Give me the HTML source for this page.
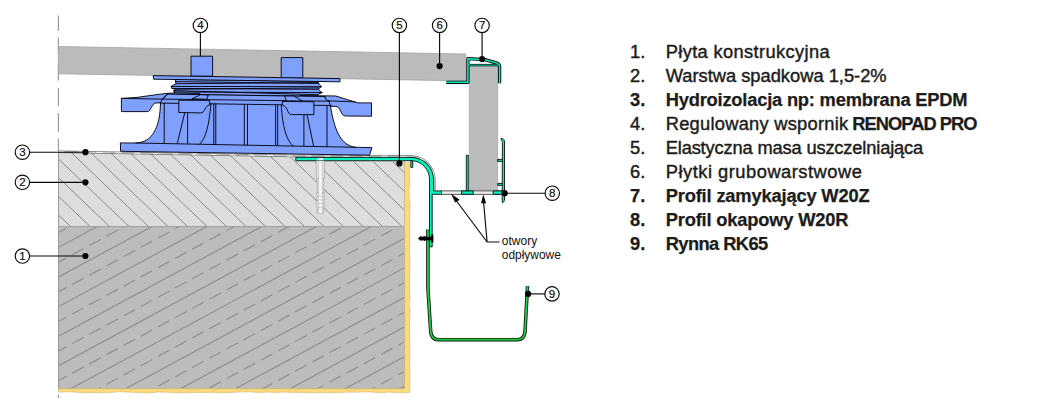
<!DOCTYPE html>
<html lang="pl">
<head>
<meta charset="utf-8">
<title>Okap tarasu - przekrój</title>
<style>
html,body{margin:0;padding:0;background:#fff;}
body{width:1054px;height:401px;overflow:hidden;position:relative;font-family:"Liberation Sans",sans-serif;}
svg{position:absolute;left:0;top:0;display:block;}
.lg text{font-family:"Liberation Sans",sans-serif;font-size:18.3px;fill:#1c1c1c;stroke:#1c1c1c;stroke-width:0.42px;}
.lg .b{font-weight:bold;stroke-width:0.25px;}
.num{font-family:"Liberation Sans",sans-serif;font-size:11.5px;fill:#111;stroke:#111;stroke-width:0.2px;text-anchor:middle;}
.lbl{font-family:"Liberation Sans",sans-serif;font-size:12.5px;fill:#111;}
.bl{fill:#7fa0ff;stroke:#05050f;stroke-width:0.95;stroke-linejoin:round;}
.ln{fill:none;stroke:#05050f;stroke-width:0.95;stroke-linecap:round;}
.tl{fill:#06f0c0;stroke:#04140f;stroke-width:0.9;stroke-linejoin:round;}
.gr{fill:#22d044;stroke:#0a2a10;stroke-width:0.8;stroke-linejoin:round;}
.co{fill:none;stroke:#0a0a0a;stroke-width:1.15;}
.dot{fill:#000;}
.cir{fill:#fff;stroke:#0a0a0a;stroke-width:1.15;}
</style>
</head>
<body>
<svg width="1054" height="401" viewBox="0 0 1054 401">
<defs>
<clipPath id="c1"><rect x="58.5" y="226.5" width="346.2" height="162.2"/></clipPath>
<clipPath id="c2"><path d="M58.5,151.5 L296,155.6 L296,160.7 L404.7,160.7 L404.7,226.5 L58.5,226.5 Z"/></clipPath>
</defs>

<path d="M58.4,15.5 V31 M58.4,37.5 V54.3 M58.4,63.1 V80.5 M58.4,88 V106 M58.4,113 V132 M58.4,138.5 V151 M58.4,394.8 V398" stroke="#9c9c9c" stroke-width="1.2" fill="none"/>
<g id="layers">
<path d="M58.5,151.5 L296,155.6 L296,160.7 L404.7,160.7 L404.7,226.5 L58.5,226.5 Z" fill="#dddddd"/>
<path clip-path="url(#c2)" d="M-50.5,148 L35.2,230 M-31.0,148 L54.7,230 M-11.5,148 L74.2,230 M8.0,148 L93.7,230 M27.5,148 L113.2,230 M47.0,148 L132.7,230 M66.5,148 L152.2,230 M86.0,148 L171.7,230 M105.5,148 L191.2,230 M125.0,148 L210.7,230 M144.5,148 L230.2,230 M164.0,148 L249.7,230 M183.5,148 L269.2,230 M203.0,148 L288.7,230 M222.5,148 L308.2,230 M242.0,148 L327.7,230 M261.5,148 L347.2,230 M281.0,148 L366.7,230 M300.5,148 L386.2,230 M320.0,148 L405.7,230 M339.5,148 L425.2,230 M359.0,148 L444.7,230 M378.5,148 L464.2,230 M398.0,148 L483.7,230 M417.5,148 L503.2,230" stroke="#8a8a8a" stroke-width="1" fill="none"/>
<rect x="58.5" y="226.5" width="346.2" height="162.2" fill="#bcbcbc"/>
<g clip-path="url(#c1)"><path d="M58.5,188.2 L410,-1.6 M58.5,217.8 L410,28.0 M58.5,247.4 L410,57.6 M58.5,277.0 L410,87.2 M58.5,306.6 L410,116.8 M58.5,336.2 L410,146.4 M58.5,365.8 L410,176.0 M58.5,395.4 L410,205.6 M58.5,425.0 L410,235.2 M58.5,454.6 L410,264.8 M58.5,484.2 L410,294.4 M58.5,513.8 L410,324.0 M58.5,543.4 L410,353.6 M58.5,573.0 L410,383.2 M58.5,602.6 L410,412.8 M58.5,632.2 L410,442.4 M58.5,661.8 L410,472.0 M58.5,691.4 L410,501.6" stroke="#8a8a8a" stroke-width="1.05" fill="none"/>
<path d="M58.5,203.0 L410,13.2 M58.5,232.6 L410,42.8 M58.5,262.2 L410,72.4 M58.5,291.8 L410,102.0 M58.5,321.4 L410,131.6 M58.5,351.0 L410,161.2 M58.5,380.6 L410,190.8 M58.5,410.2 L410,220.4 M58.5,439.8 L410,250.0 M58.5,469.4 L410,279.6 M58.5,499.0 L410,309.2 M58.5,528.6 L410,338.8 M58.5,558.2 L410,368.4 M58.5,587.8 L410,398.0 M58.5,617.4 L410,427.6 M58.5,647.0 L410,457.2 M58.5,676.6 L410,486.8 M58.5,706.2 L410,516.4" stroke="#8a8a8a" stroke-width="1.05" fill="none" stroke-dasharray="13 6.5" stroke-dashoffset="4"/></g>
<path d="M58.5,226.5 H404.7" stroke="#a0a0a0" stroke-width="1" fill="none"/>
<path d="M58.5,151 V389" stroke="#9a9a9a" stroke-width="1" fill="none"/>
<path d="M404.7,161 V388.7 H58.5" stroke="#a0a0a0" stroke-width="0.8" fill="none"/>
<path d="M404.7,162.8 L409.4,162.8 L409.3,170.0 L409.4,177.2 L409.7,184.6 L409.0,189.9 L409.3,198.2 L410.1,204.1 L409.9,211.0 L409.7,217.9 L409.7,223.5 L409.6,232.0 L409.7,240.0 L409.8,245.2 L409.3,252.6 L410.0,257.7 L409.8,264.6 L409.8,273.1 L409.4,281.8 L409.5,290.0 L410.0,298.7 L409.1,304.1 L410.1,310.0 L409.7,316.8 L409.6,323.0 L409.4,329.5 L409.6,336.8 L409.8,345.5 L409.9,354.2 L409.7,363.1 L409.9,368.8 L410.0,377.6 L409.8,384.9 L410,392.3 L400.0,392.8 L389.0,392.1 L381.5,392.8 L367.6,391.8 L355.0,392.2 L347.0,392.1 L334.6,392.8 L327.3,392.5 L319.9,392.6 L310.6,392.8 L296.8,392.4 L282.8,392.1 L275.2,392.5 L268.0,392.0 L258.2,392.5 L250.1,391.8 L237.0,392.1 L223.3,392.9 L213.6,392.3 L203.0,392.5 L191.8,392.4 L180.5,392.9 L169.9,392.3 L157.9,392.0 L148.8,393.0 L138.1,392.4 L131.1,392.2 L120.0,391.7 L108.7,392.5 L101.3,392.5 L91.0,392.6 L81.5,392.6 L69.4,391.7 L58.5,392.2 L58.5,388.7 L404.7,388.7 Z" fill="#fcda80" stroke="#d2b56c" stroke-width="0.6"/>
</g>
<path d="M58.4,46.5 L465.8,54 L465.8,80.9 L58.4,73.8 Z" fill="#bbbbbb" stroke="#a3a3a3" stroke-width="0.8"/>
<rect x="469.2" y="65.5" width="28.6" height="124.7" fill="#bbbbbb" stroke="#a3a3a3" stroke-width="0.6"/>
<path d="M58.5,151.7 L296,155.9 L411,156.5 A23.3,23.3 0 0 1 434.3,179.8 L434.3,190.5" fill="none" stroke="#6f6f6f" stroke-width="2.5"/>
<path d="M58.5,151.7 L296,155.9 L411,156.5 A23.3,23.3 0 0 1 434.3,179.8 L434.3,190.5" fill="none" stroke="#cfcfcf" stroke-width="1.1"/>
<path d="M58.5,151.7 L296,155.9 L411,156.5 A23.3,23.3 0 0 1 434.3,179.8 L434.3,190.5" fill="none" stroke="#f4f4f4" stroke-width="1.1" stroke-dasharray="6 13"/>
<g id="pedestal">
<rect class="bl" x="191" y="56.2" width="21.6" height="20"/>
<rect class="bl" x="281.2" y="57.6" width="21.6" height="20.5"/>
<path class="bl" d="M175.4,79.4 L176,83.7 L171.2,86.4 L172,88.4 L175.4,89.2 L174,92 L176,94.4 L317.3,96.4 L317.4,94.7 L322.1,92.6 L318,89.3 L321.4,86.7 L318,83 L319.5,81.4 Z"/>
<path class="ln" d="M176,83.7 L318,82.6 M175.4,81.6 L318,83.4 M171.2,86.4 L321.4,86.7 M172,88.4 L318,89.3 M175.4,89.2 L319,87.9 M174,92 L322.1,92.6 M173.5,90.6 L317.4,94.7"/>
<path class="bl" d="M153.2,75.6 L340,78.6 L340,81.8 L153.6,79.2 Z"/>
<path class="bl" d="M121.4,98.4 L137,97.4 L156.2,94.7 L168,93.3 L176,93 L200,93.5 L200,102.9 L156.2,102.9 C151,103.2 151.5,111.6 147.2,111.6 L121.4,111.6 Z"/>
<path class="bl" d="M371.5,102.9 L357.8,102.9 L335.8,96 L300,95.5 L300,105.9 L335.8,106.4 C341,106.6 340.5,116 345.4,116 L371.5,116.2 Z"/>
<path class="bl" d="M160.5,103.1 C160,128 152,142.5 136,143 L120.4,142.9 L120.6,151.3 L369.6,155.2 L371.9,147.6 L356,147.3 C340,146 334,128 330.4,105.6 L329,100.9 C327,100.9 325.5,99.5 324.9,96.5 L176,94.3 L167.8,94 L162.3,99.1 Z"/>
<path class="ln" d="M121.4,98.4 L162.3,99.1 L167.8,94 M324.9,96.7 C325.5,99.5 327,100.9 329,100.9 L355,101.8"/>
<path class="ln" d="M136,143 L356,147.3"/>
<path class="ln" d="M160.5,103.1 L331,105.5 M162.3,99.1 L329,101.2"/>
<path class="ln" d="M164.2,103.2 V143.4 M187.6,112.4 V143.8 M213.8,104 V144.3 M215.8,104 V144.3 M244.3,104.4 V144.9 M247.5,104.4 V144.9 M275.6,105 V145.5 M277.7,105 V145.5 M303.9,114.3 V146 M327,105.6 V146.4"/>
<path class="ln" d="M184.8,112.4 L177.3,143.6 M307,114.3 L313.6,146.1"/>
<path class="ln" d="M211,104 C209,125 206,138 199.8,144 M281.2,105.2 C282.5,126 286,140 293,145.8"/>
<path class="bl" d="M191.8,98.9 L200.7,94.7 L208.3,95.1 L206.9,99.2 Z"/>
<path class="bl" d="M284.4,96 L294,96 L302.2,100.9 L286.5,100.9 Z"/>
<path class="bl" d="M178.8,100.2 L209.7,100.4 L209.7,105 C204.5,105.5 205.5,112.9 200.4,112.9 L178.8,112.5 Z"/>
<path class="bl" d="M313.9,101.8 L282.3,101.4 L282.3,105.4 C288,105.8 287,114.6 291.6,114.6 L313.9,114.6 Z"/>
</g>
<g id="w20r">
<path class="tl" d="M295.8,157.4 L411,157.4 A22.6,22.6 0 0 1 433.6,180 L433.6,190.9 L441.5,190.9 L441.5,194.3 L432.2,194.3 L432.2,246.8 L429.5,246.8 L429.5,180 A18.5,18.5 0 0 0 411,160.7 L295.8,160.7 Z"/>
<path d="M296.5,161.4 H404.5" stroke="#a9a9a9" stroke-width="1" fill="none"/>
<path class="tl" d="M410.8,160.7 H412.8 V167.4 H410.8 Z"/>
<rect x="441.5" y="190.9" width="62" height="3.4" fill="#ececec" stroke="#333" stroke-width="0.8"/>
<rect class="tl" x="461.6" y="190.9" width="11.6" height="3.4"/>
<rect class="tl" x="493.2" y="190.9" width="10" height="3.4"/>
<rect class="tl" x="466.3" y="155.2" width="2" height="35.8"/>
<path class="tl" d="M501.2,138.2 C503.6,138.4 504.5,140 504.5,142 L504.5,199 C504.5,201 503.6,202.4 502.4,202.8 L502.2,200.5 L502.4,142.5 C502.4,141 501.8,140.4 501.2,140.2 Z"/>
<rect class="tl" x="497.6" y="159.4" width="5" height="2"/>
<rect class="tl" x="497.8" y="183.4" width="4.8" height="2"/>
</g>
<g id="w20z" fill="none" stroke-linejoin="round">
<path d="M491,63.6 L498.6,64.4 L498.6,66 L490,65.6 Z" fill="#06f0c0" stroke="none"/>
<path d="M446.3,82.3 L467.9,82.3 L467.9,58.7 L485,59.7 L496.3,62.9 Q499.6,63.8 499.6,67.2 L499.6,83.3" stroke="#020a08" stroke-width="3.3"/>
<path d="M467.9,65.1 L498.6,65.1" stroke="#020a08" stroke-width="2.4"/>
<path d="M446.3,82.3 L467.9,82.3 L467.9,58.7 L485,59.7 L496.3,62.9 Q499.6,63.8 499.6,67.2 L499.6,83.3" stroke="#06f0c0" stroke-width="1.5"/>
<path d="M467.9,65.1 L498.6,65.1" stroke="#06f0c0" stroke-width="0.9"/>
</g>
<g id="gutter">
<path d="M427.9,229.6 L427.9,288 L430.7,332 Q431.5,339.7 438.6,339.7 L517.2,339.7 Q524.3,339.7 525,332 L527.5,286" fill="none" stroke="#06180a" stroke-width="3.5" stroke-linejoin="round"/>
<path d="M427.9,229.6 L427.9,288 L430.7,332 Q431.5,339.7 438.6,339.7 L517.2,339.7 Q524.3,339.7 525,332 L527.5,286" fill="none" stroke="#22d044" stroke-width="1.8" stroke-linejoin="round"/>
</g>
<path d="M417.9,238.5 L420.5,236.2 L423,236.7 L424.5,235.9 L426,236.7 L430.9,236.7 L430.9,234.5 L433.4,234.5 L433.4,242.5 L430.9,242.5 L430.9,240.3 L426,240.3 L424.5,241.1 L423,240.3 L420.5,240.8 Z" fill="#000"/>
<g id="anchor" fill="#e6e6e6" stroke="#a2a2a2" stroke-width="0.7">
<path d="M316.4,160.9 H324.3 V178.5 H316.4 Z"/>
<path d="M317.2,178.5 H323.7 V193 H317.2 Z"/>
<path d="M316.6,193 H324.3 L324.6,195.6 L323.6,196.6 L324.6,199.2 L323.6,200.2 L324.6,202.9 L323.6,203.9 L324.6,206.6 L323.6,207.6 L323.8,213.2 H317.2 L317.2,207.6 L316.2,206.6 L317.2,203.9 L316.2,202.9 L317.2,200.2 L316.2,199.2 L317.2,196.6 L316.2,195.6 Z"/>
<rect x="318.8" y="161" width="3.2" height="52" fill="#fafafa" stroke="none"/>
<path d="M318.7,161 V213 M322.1,161 V213 M316.4,196.2 H324.4 M316.4,199.8 H324.4 M316.4,203.5 H324.4 M316.4,207.2 H324.4" fill="none" stroke="#b5b5b5" stroke-width="0.6"/>
<ellipse cx="320.4" cy="158.9" rx="3.2" ry="1" fill="#fff" stroke="none"/>
</g>
<g id="callouts">
<path class="co" d="M29.4,256.0 L85.4,256.0"/>
<circle class="dot" cx="85.4" cy="256.0" r="3.1"/>
<circle class="cir" cx="22.4" cy="256.0" r="7.2"/>
<text class="num" x="22.4" y="260.0">1</text>
<path class="co" d="M29.4,182.3 L85.4,182.3"/>
<circle class="dot" cx="85.4" cy="182.3" r="3.1"/>
<circle class="cir" cx="22.4" cy="182.3" r="7.2"/>
<text class="num" x="22.4" y="186.3">2</text>
<path class="co" d="M29.4,152.2 L85.4,152.2"/>
<circle class="dot" cx="85.4" cy="152.2" r="3.1"/>
<circle class="cir" cx="22.4" cy="152.2" r="7.2"/>
<text class="num" x="22.4" y="156.2">3</text>
<path class="co" d="M200.4,32.6 V56.2"/>
<circle class="cir" cx="200.4" cy="25.4" r="7.2"/><text class="num" x="200.4" y="29.4">4</text>
<path class="co" d="M399.4,32.4 L399.4,163.4"/>
<circle class="dot" cx="399.4" cy="163.4" r="3.1"/>
<circle class="cir" cx="399.4" cy="25.4" r="7.2"/>
<text class="num" x="399.4" y="29.4">5</text>
<path class="co" d="M439.6,32.4 L439.6,66.1"/>
<circle class="dot" cx="439.6" cy="66.1" r="3.1"/>
<circle class="cir" cx="439.6" cy="25.4" r="7.2"/>
<text class="num" x="439.6" y="29.4">6</text>
<path class="co" d="M482.1,32.4 L482.1,59.0"/>
<circle class="dot" cx="482.1" cy="59.0" r="3.1"/>
<circle class="cir" cx="482.1" cy="25.4" r="7.2"/>
<text class="num" x="482.1" y="29.4">7</text>
<path class="co" d="M545.3,193.2 L504.7,193.2"/>
<circle class="dot" cx="504.7" cy="193.2" r="3.1"/>
<circle class="cir" cx="552.3" cy="193.2" r="7.2"/>
<text class="num" x="552.3" y="197.2">8</text>
<path class="co" d="M545.0,293.9 L528.1,293.9"/>
<circle class="dot" cx="528.1" cy="293.9" r="3.1"/>
<circle class="cir" cx="552.0" cy="293.9" r="7.2"/>
<text class="num" x="552.0" y="297.9">9</text>
</g>
<g id="arrows">
<path class="co" d="M455,199 L487.1,242 L499.5,242 M483.4,200 L487.1,242"/>
<path d="M451.1,193.8 L459.7,199.8 L455.1,202.6 Z" fill="#000"/>
<path d="M483.3,194.2 L486.1,203.2 L481.1,203.2 Z" fill="#000"/>
<text class="lbl" x="501.8" y="244.6" textLength="35.4" lengthAdjust="spacingAndGlyphs">otwory</text>
<text class="lbl" x="501.8" y="259.1" textLength="59" lengthAdjust="spacingAndGlyphs">odpływowe</text>
</g>
<g class="lg">
<text x="630" y="58">1.</text>
<text x="665.7" y="58" textLength="163.9" lengthAdjust="spacing">Płyta konstrukcyjna</text>
<text x="630" y="82">2.</text>
<text x="665.7" y="82" textLength="220.9" lengthAdjust="spacing">Warstwa spadkowa 1,5-2%</text>
<text class="b" x="630" y="106">3.</text>
<text class="b" x="665.7" y="106" textLength="301.9" lengthAdjust="spacing">Hydroizolacja np: membrana EPDM</text>
<text x="630" y="130">4.</text>
<text x="665.7" y="130" textLength="182.5" lengthAdjust="spacing">Regulowany wspornik</text>
<text class="b" x="852.2" y="130" textLength="125.4" lengthAdjust="spacing">RENOPAD PRO</text>
<text x="630" y="154">5.</text>
<text x="665.7" y="154" textLength="257.5" lengthAdjust="spacing">Elastyczna masa uszczelniająca</text>
<text x="630" y="178">6.</text>
<text x="665.7" y="178" textLength="196.2" lengthAdjust="spacing">Płytki grubowarstwowe</text>
<text class="b" x="630" y="202">7.</text>
<text class="b" x="665.7" y="202" textLength="203.9" lengthAdjust="spacing">Profil zamykający W20Z</text>
<text class="b" x="630" y="226">8.</text>
<text class="b" x="665.7" y="226" textLength="182.7" lengthAdjust="spacing">Profil okapowy W20R</text>
<text class="b" x="630" y="250">9.</text>
<text class="b" x="665.7" y="250" textLength="102.5" lengthAdjust="spacing">Rynna RK65</text>
</g>
</svg>
</body>
</html>
